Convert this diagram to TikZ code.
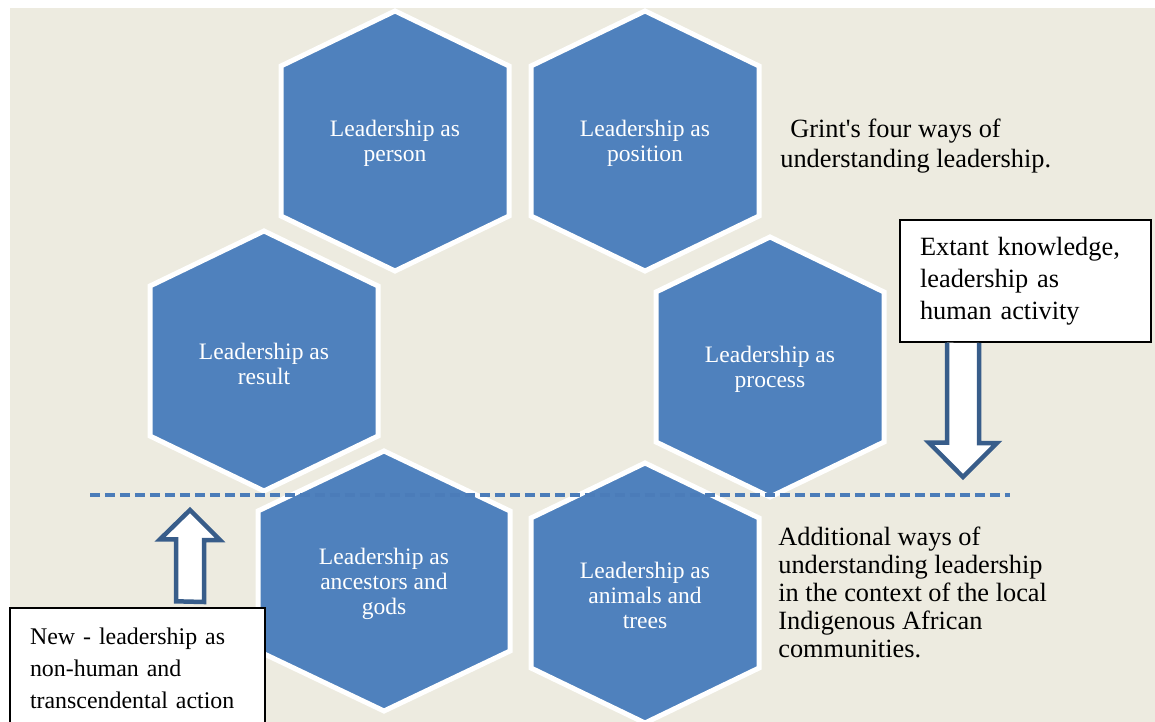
\documentclass[tikz,border=0pt]{standalone}
\usepackage{fontspec}
\setmainfont{Liberation Serif}

\definecolor{hexblue}{HTML}{4F81BD}
\definecolor{dashblue}{HTML}{4B7CB9}
\definecolor{arrowblue}{HTML}{385D8A}
\definecolor{paper}{HTML}{EDEBE0}

% one hexagon: name, centre, half width, half side, text
\newcommand{\hexnode}[5]{%
	\coordinate (#1 c) at #2;
	\draw[hex shape] (#1 c) ++(0,-130) -- ++(#3,130-#4) -- ++(0,2*#4) -- ++(-#3,130-#4)
		-- ++(-#3,#4-130) -- ++(0,-2*#4) -- cycle;
	\node[hex text] (#1) at (#1 c) {#5};
}

\begin{document}
\begin{tikzpicture}[x=0.02cm,y=-0.02cm,
	hex shape/.style={fill=hexblue, draw=white, line width=0.1cm, line join=miter},
	hex text/.style={text=white, align=center, inner sep=0pt, yshift=-0.05cm, font=\fontsize{13.4}{14.2}\selectfont},
	note box/.style={draw=black, fill=white, line width=0.8pt, align=left, inner xsep=0.4cm, inner ysep=0pt},
	side text/.style={align=left, inner sep=0pt, font=\fontsize{15}{17.6}\selectfont},
	block arrow/.style={draw=arrowblue, fill=white, line width=0.09cm, line join=miter},
	sep line/.style={draw=dashblue, line width=0.07cm, dash pattern=on 0.2cm off 0.1cm}]
	
	\useasboundingbox (0,0) rectangle (1155,722);
	\fill[paper] (10,8) rectangle (1155,722);
	
	% Grint's four
	\hexnode{person}{(395,141)}{114}{75}{Leadership as\\person}
	\hexnode{position}{(645,141)}{114}{75}{Leadership as\\position}
	\hexnode{result}{(264,361)}{114}{75}{Leadership as\\result}
	\hexnode{process}{(770,367)}{114}{75}{Leadership as\\process}
	
	% the new ones
	\hexnode{ancestors}{(384,581)}{126}{70}{Leadership as\\ancestors and\\gods}
	\hexnode{animals}{(645,593)}{114}{75}{Leadership as\\animals and\\trees}
	
	\coordinate (sep west) at (90,495);
	\coordinate (sep east) at (1010,495);
	\draw[sep line] (sep west) -- (sep east);
	
	\node[side text, anchor=base west] (grint) at (780,168)
	{\hspace*{0.2cm}Grint\textquotesingle s four ways of\\understanding leadership.};
	
	\node[side text, anchor=base west, font=\fontsize{15}{15.8}\selectfont] (extra) at (778,657)
	{Additional ways of\\understanding leadership\\in the context of the local\\Indigenous African\\communities.};
	
	% extant knowledge, arrow down to the line
	\coordinate (down tip) at (963,477);
	\node[note box, text width=4.22cm, minimum height=2.44cm, font=\fontsize{15}{18.2}\selectfont] (extant) at (1025.5,281)
	{Extant knowledge,\\leadership as\\human activity};
	\draw[block arrow] (extant.south -| down tip) ++(-16,0) -- ++(0,100) -- ++(-18,0) -- (down tip)
		-- ++(34,-34) -- ++(-18,0) -- ++(0,-100);
	
	% new knowledge, arrow up to the line
	\coordinate (up tip) at (190,510);
	\node[note box, text width=4.3cm, minimum height=2.4cm, font=\fontsize{13.6}{18.2}\selectfont] (new) at (137.5,668)
	{New - leadership as\\non-human and\\transcendental action};
	\draw[block arrow] (new.north -| up tip) ++(-14,-6) -- ++(0,-62) -- ++(-16,0) -- (up tip)
		-- ++(30,30) -- ++(-16,0) -- ++(0,62) -- cycle;
	
\end{tikzpicture}
\end{document}
